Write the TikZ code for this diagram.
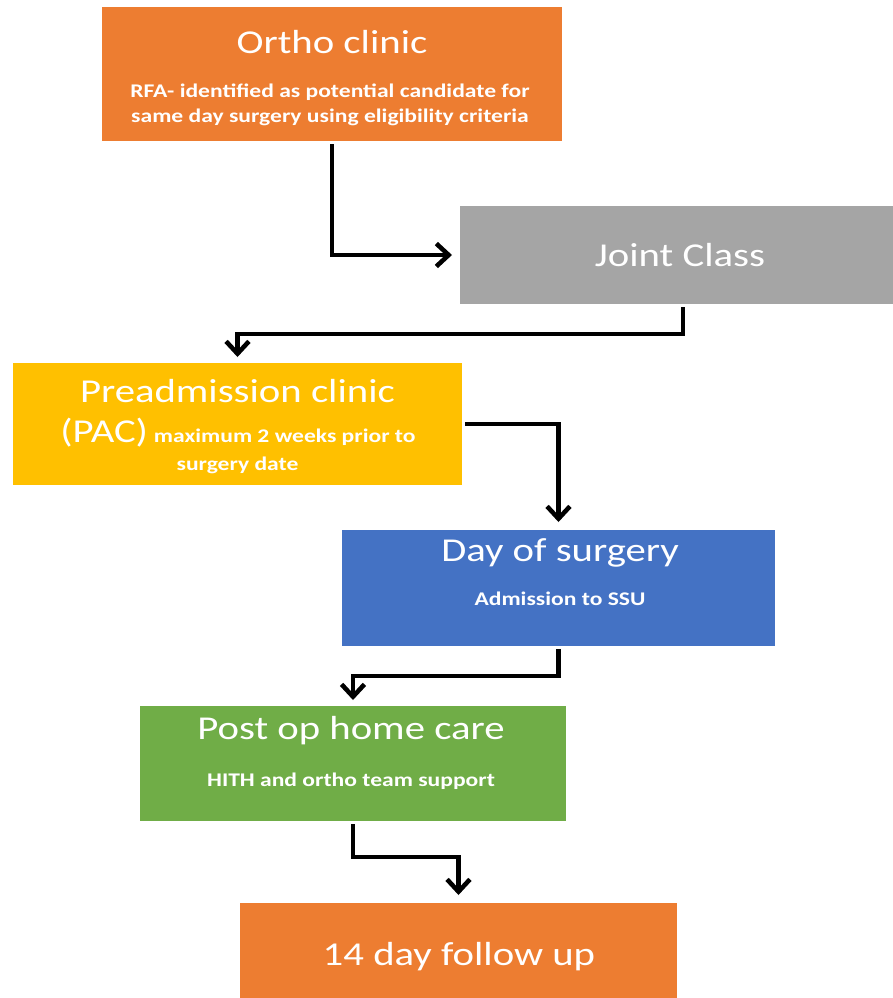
\documentclass[tikz,border=0pt]{standalone}
\usepackage{fontspec}
\usepackage{xcolor}
\newfontfamily\calfont[FakeStretch=1.22]{Carlito}
\def\Ttl{\calfont\fontsize{19}{23}\selectfont}
\def\Sub{\calfont\bfseries\fontsize{11}{14}\selectfont}
\definecolor{orthoorange}{HTML}{ED7D31}
\definecolor{classgray}{HTML}{A5A5A5}
\definecolor{pacyellow}{HTML}{FFC000}
\definecolor{dosblue}{HTML}{4472C4}
\definecolor{hithgreen}{HTML}{70AD47}
\usepackage{tikz}
\usetikzlibrary{positioning,arrows.meta,calc}

\begin{document}
\begin{tikzpicture}[
  box/.style={rectangle, inner sep=0pt, outer sep=0pt},
  txt/.style={text=white, inner sep=0pt, anchor=base, align=center},
  flow/.style={line width=2.6pt, -{Straight Barb[length=7pt,width=13pt]}, shorten <=0.06cm}
]

\useasboundingbox (0,0) rectangle (17.86,-19.96);

% boxes
\node[box, fill=orthoorange, minimum width=9.2cm, minimum height=2.68cm] (ortho) at (6.64,-1.48) {};
\node[box, fill=classgray, minimum width=8.66cm, minimum height=1.96cm] (joint) at (13.53,-5.10) {};
\node[box, fill=pacyellow, minimum width=8.98cm, minimum height=2.44cm] (pread) at (4.75,-8.48) {};
\node[box, fill=dosblue, minimum width=8.66cm, minimum height=2.32cm] (day) at (11.17,-11.76) {};
\node[box, fill=hithgreen, minimum width=8.52cm, minimum height=2.30cm] (post) at (7.06,-15.27) {};
\node[box, fill=orthoorange, minimum width=8.74cm, minimum height=1.90cm] (follow) at (9.17,-19.01) {};

% texts
\node[txt, font=\Ttl] (orthoTitle) at (6.64,-1.06) {Ortho clinic};
\node[txt, font=\Sub] (orthoNoteA) at (6.60,-1.94) {RFA- identified as potential candidate for};
\node[txt, font=\Sub] (orthoNoteB) at (6.60,-2.44) {same day surgery using eligibility criteria};

\node[txt, font=\Ttl] (jointTitle) at (13.60,-5.32) {Joint Class};

\node[txt, font=\Ttl] (preadTitle) at (4.75,-8.04) {Preadmission clinic};
\node[txt] (preadNoteA) at (4.76,-8.84) {{\Ttl (PAC)} {\Sub maximum 2 weeks prior to}};
\node[txt, font=\Sub] (preadNoteB) at (4.75,-9.40) {surgery date};

\node[txt, font=\Ttl] (dayTitle) at (11.20,-11.22) {Day of surgery};
\node[txt, font=\Sub] (dayNote) at (11.20,-12.10) {Admission to SSU};

\node[txt, font=\Ttl] (postTitle) at (7.02,-14.78) {Post op home care};
\node[txt, font=\Sub] (postNote) at (7.02,-15.72) {HITH and ortho team support};

\node[txt, font=\Ttl] (followTitle) at (9.18,-19.30) {14 day follow up};

% connectors
\draw[flow, shorten >=0.16cm] (ortho.south) |- (joint.west);
\draw[flow, shorten >=0.12cm] ([xshift=0.13cm]joint.south) -- ++(0,-0.6) -| (pread.north);
\draw[flow, shorten >=0.16cm] (pread.east) -| (day.north);
\draw[flow, shorten >=0.12cm] (day.south) -- ++(0,-0.6) -| (post.north);
\draw[flow, shorten >=0.16cm] (post.south) -- ++(0,-0.72) -| (follow.north);

\end{tikzpicture}
\end{document}
